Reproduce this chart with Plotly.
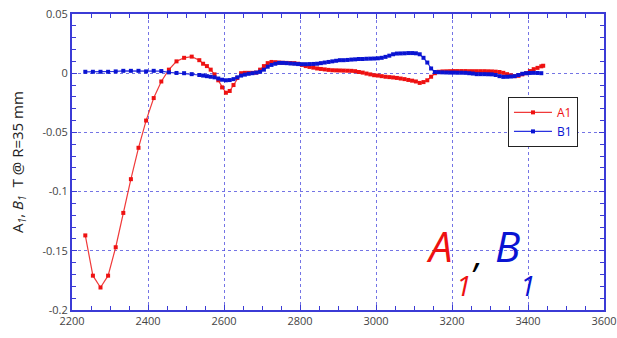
import plotly.graph_objects as go

# ---- data -------------------------------------------------------------
a1_x = [2235, 2255, 2275, 2295, 2315, 2335, 2355, 2375, 2395, 2415, 2435, 2455, 2475, 2495, 2515, 2535,
        2545, 2555, 2565, 2575, 2585, 2595, 2605, 2615, 2625, 2635, 2645, 2655, 2665, 2675, 2685, 2695,
        2705, 2715, 2725, 2735, 2745, 2755, 2765, 2775, 2785, 2795, 2805, 2815, 2825, 2835, 2845, 2855,
        2865, 2875, 2885, 2895, 2905, 2915, 2925, 2935, 2945, 2955, 2965, 2975, 2985, 2995, 3005, 3015,
        3025, 3035, 3045, 3055, 3065, 3075, 3085, 3095, 3105, 3115, 3125, 3135, 3145, 3155, 3165, 3175,
        3185, 3195, 3205, 3215, 3225, 3235, 3245, 3255, 3265, 3275, 3285, 3295, 3305, 3315, 3325, 3335,
        3345, 3355, 3365, 3375, 3385, 3395, 3405, 3415, 3425, 3435, 3440]
a1_y = [-0.137, -0.171, -0.181, -0.171, -0.147, -0.118, -0.0895, -0.063, -0.040, -0.021, -0.007, 0.003,
        0.010, 0.013, 0.014, 0.011,
        0.008, 0.006, 0.003, -0.001, -0.006, -0.012, -0.0165, -0.015, -0.010, -0.004, 0.000, 0.0003,
        0.0003, 0.0003, 0.0005, 0.003, 0.006, 0.0085, 0.0095, 0.0093, 0.009, 0.0088, 0.0087, 0.0086,
        0.0085, 0.008, 0.007, 0.006, 0.0053, 0.0047, 0.004, 0.0036, 0.0032, 0.0028, 0.0025, 0.0024,
        0.0023, 0.0022, 0.0021, 0.002, 0.0017, 0.001, 0.0005, -0.0003, -0.001, -0.0017, -0.002, -0.0025,
        -0.003, -0.0033, -0.0036, -0.004, -0.0045, -0.005, -0.0057, -0.0063, -0.007, -0.0082, -0.0075,
        -0.006, -0.003, 0.0, 0.0012, 0.0015, 0.0016, 0.0017, 0.0018, 0.0018, 0.0018, 0.0018, 0.0017,
        0.0017, 0.0017, 0.0017, 0.0017, 0.0016, 0.0015, 0.0013, 0.001, 0.0003, -0.0008, -0.0018, -0.0025,
        -0.0022, -0.001, 0.0, 0.0018, 0.0034, 0.0045, 0.0058, 0.0063]

b1_x = [2235, 2255, 2275, 2295, 2315, 2335, 2355, 2375, 2395, 2415, 2435, 2455, 2475, 2495, 2515, 2535,
        2545, 2555, 2565, 2575, 2585, 2595, 2605, 2615, 2625, 2635, 2645, 2655, 2665, 2675, 2685, 2695,
        2705, 2715, 2725, 2735, 2745, 2755, 2765, 2775, 2785, 2795, 2805, 2815, 2825, 2835, 2845, 2855,
        2865, 2875, 2885, 2895, 2905, 2915, 2925, 2935, 2945, 2955, 2965, 2975, 2985, 2995, 3005, 3015,
        3025, 3035, 3045, 3055, 3065, 3075, 3085, 3095, 3105, 3115, 3125, 3135, 3145, 3155, 3165, 3175,
        3185, 3195, 3205, 3215, 3225, 3235, 3245, 3255, 3265, 3275, 3285, 3295, 3305, 3315, 3325, 3335,
        3345, 3355, 3365, 3375, 3385, 3395, 3405, 3415, 3425, 3435]
b1_y = [0.0012, 0.0012, 0.0012, 0.0012, 0.0015, 0.002, 0.002, 0.002, 0.0015, 0.002, 0.0018, 0.0007,
        0.0002, 0.0, -0.0008, -0.0015,
        -0.002, -0.0025, -0.003, -0.0035, -0.0045, -0.0055, -0.006, -0.0058, -0.005, -0.0035, -0.002,
        -0.0012, -0.0005, 0.0, 0.0005, 0.0012, 0.003, 0.0055, 0.007, 0.008, 0.0087, 0.0087, 0.0085,
        0.0082, 0.008, 0.0077, 0.0076, 0.0076, 0.0077, 0.0078, 0.008, 0.0085, 0.009, 0.0095, 0.01,
        0.0105, 0.011, 0.011, 0.0112, 0.0115, 0.0117, 0.012, 0.012, 0.0122, 0.0123, 0.0124, 0.0126,
        0.013, 0.0138, 0.0148, 0.016, 0.0166, 0.0167, 0.0168, 0.017, 0.017, 0.0168, 0.016, 0.013, 0.009,
        0.004, 0.001, 0.0008, 0.0007, 0.0006, 0.0005, 0.0005, 0.0004, 0.0004, 0.0003, 0.0, -0.0003,
        -0.0008, -0.0008, -0.0008, -0.0009, -0.001, -0.0015, -0.0025, -0.0031, -0.003, -0.0028, -0.0025,
        -0.0015, -0.0005, 0.0, 0.0002, 0.0003, 0.0002, 0.0]

x_ticks = [2200, 2400, 2600, 2800, 3000, 3200, 3400, 3600]
y_ticks = [0.05, 0, -0.05, -0.1, -0.15, -0.2]
y_tick_labels = ["0.05", "0", "-0.05", "-0.1", "-0.15", "-0.2"]

RED = "#ee1111"
BLUE = "#0a14d2"
AXIS = "#3b3bd6"
GRID = "rgba(70,70,220,0.75)"
FONT = "Open Sans"

fig = go.Figure()
fig.add_trace(go.Scatter(
    x=a1_x, y=a1_y, mode="lines+markers",
    name="<span style='color:%s'>A1</span>" % RED,
    line=dict(color="#f03a3a", width=1.2),
    marker=dict(color=RED, size=4, symbol="square"),
))
fig.add_trace(go.Scatter(
    x=b1_x, y=b1_y, mode="lines+markers",
    name="<span style='color:%s'>B1</span>" % BLUE,
    line=dict(color="#2a32e0", width=1.2),
    marker=dict(color=BLUE, size=4, symbol="square"),
))

axis_common = dict(
    showline=True, linecolor=AXIS, linewidth=2, mirror="allticks",
    ticks="inside", ticklen=5, tickcolor=AXIS, tickwidth=1,
    showgrid=True, gridcolor=GRID, griddash="dot", gridwidth=1,
    zeroline=False, automargin=False,
    tickfont=dict(family=FONT, size=11, color="#444444"),
)

fig.update_xaxes(range=[2200, 3600], tickvals=x_ticks,
                 minor=dict(dtick=50, ticks="inside", ticklen=4, tickcolor=AXIS, showgrid=False),
                 **axis_common)
fig.update_yaxes(range=[-0.2, 0.05], tickvals=y_ticks, ticktext=y_tick_labels,
                 minor=dict(dtick=0.01, ticks="inside", ticklen=4, tickcolor=AXIS, showgrid=False),
                 **axis_common)

annotations = [
    dict(text="A", x=3166, y=-0.1455, font=dict(family=FONT, size=42, color=RED, style="italic")),
    dict(text="1", x=3229, y=-0.1785, font=dict(family=FONT, size=28, color=RED, style="italic")),
    dict(text=",", x=3266, y=-0.1525, font=dict(family=FONT, size=36, color="black", style="italic")),
    dict(text="B", x=3345, y=-0.1455, font=dict(family=FONT, size=42, color=BLUE, style="italic")),
    dict(text="1", x=3398, y=-0.1785, font=dict(family=FONT, size=28, color=BLUE, style="italic")),
]
for a in annotations:
    fig.add_annotation(xref="x", yref="y", showarrow=False, xanchor="center", yanchor="middle", **a)

fig.add_annotation(
    xref="paper", yref="paper", x=-0.1015, y=0.5, xanchor="center", yanchor="middle",
    textangle=-90, showarrow=False,
    text="A<sub><i>1</i></sub>, <i>B</i><sub><i>1</i></sub>  T @ R=35 mm",
    font=dict(family=FONT, size=15, color="#222222"),
)
fig.add_annotation(
    xref="paper", yref="paper", x=0.5, y=-0.072, xanchor="center", yanchor="top",
    showarrow=False, text="Dist from IP, mm",
    font=dict(family=FONT, size=15, color="#222222"),
)

fig.update_layout(
    width=617, height=338,
    margin=dict(l=72, r=13, t=14, b=28),
    paper_bgcolor="white", plot_bgcolor="white",
    showlegend=True,
    legend=dict(x=0.8195, y=0.72, xanchor="left", yanchor="top",
                bgcolor="white", bordercolor="#222222", borderwidth=1,
                font=dict(family=FONT, size=12), itemwidth=38, tracegroupgap=0),
)

fig.write_html("out.html")
